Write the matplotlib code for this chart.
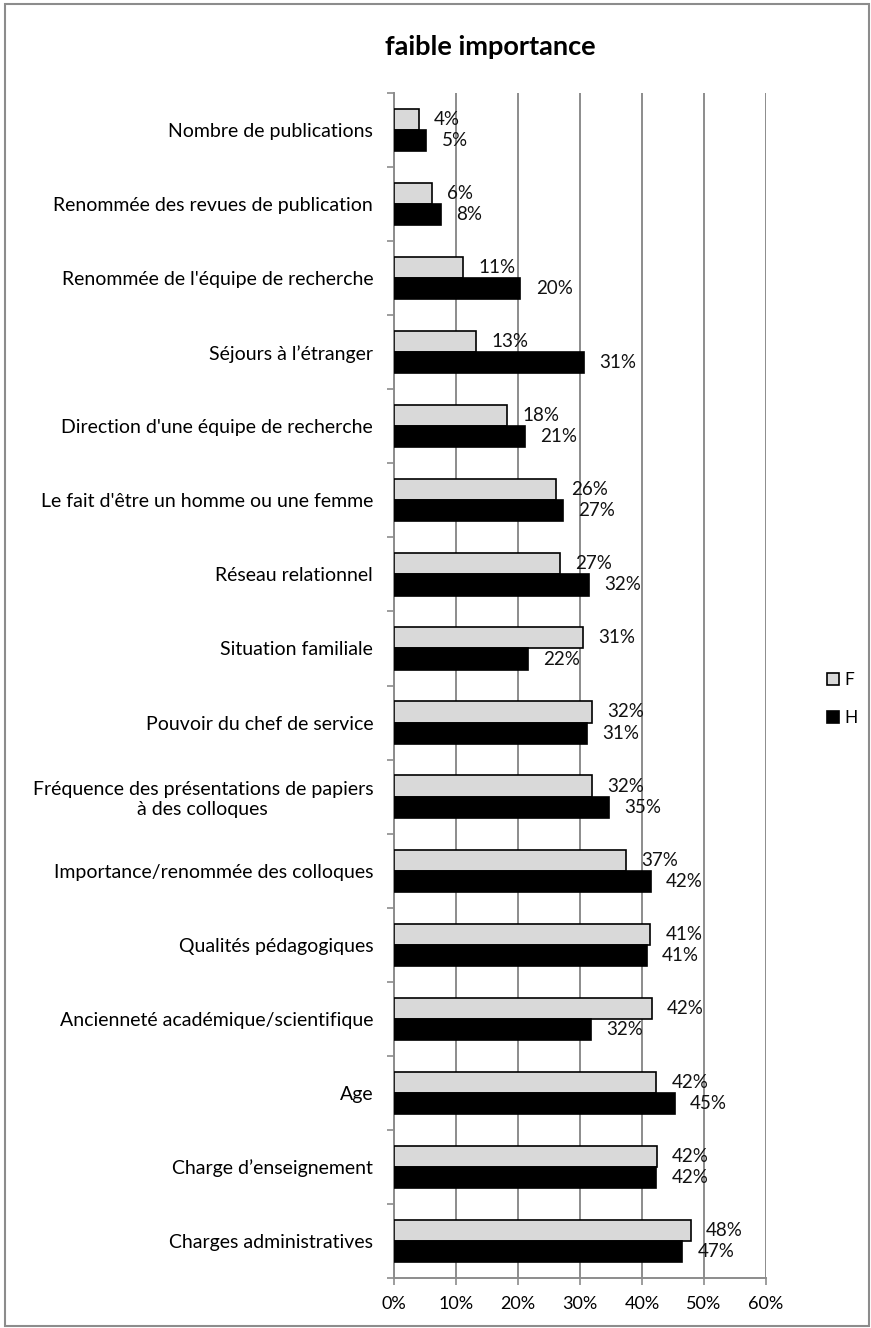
import numpy as np
import matplotlib
matplotlib.use('Agg')
import matplotlib.pyplot as plt
from matplotlib.patches import Rectangle

plt.rcParams['font.family'] = ['Lato', 'DejaVu Sans']

# Données
categories = [
    "Nombre de publications",
    "Renommée des revues de publication",
    "Renommée de l'équipe de recherche",
    "Séjours à l’étranger",
    "Direction d'une équipe de recherche",
    "Le fait d'être un homme ou une femme",
    "Réseau relationnel",
    "Situation familiale",
    "Pouvoir du chef de service",
    "Fréquence des présentations de papiers\nà des colloques",
    "Importance/renommée des colloques",
    "Qualités pédagogiques",
    "Ancienneté académique/scientifique",
    "Age",
    "Charge d’enseignement",
    "Charges administratives",
]
f_values = [4.0, 6.1, 11.2, 13.2, 18.3, 26.1, 26.7, 30.5, 31.9, 31.9, 37.4, 41.3, 41.6, 42.3, 42.4, 47.9]
h_values = [5.2, 7.5, 20.4, 30.7, 21.1, 27.2, 31.5, 21.6, 31.1, 34.7, 41.4, 40.8, 31.7, 45.3, 42.3, 46.5]
f_labels = ['4%', '6%', '11%', '13%', '18%', '26%', '27%', '31%', '32%', '32%', '37%', '41%', '42%', '42%', '42%', '48%']
h_labels = ['5%', '8%', '20%', '31%', '21%', '27%', '32%', '22%', '31%', '35%', '42%', '41%', '32%', '45%', '42%', '47%']
x_ticks = [0, 10, 20, 30, 40, 50, 60]

W, H = 871, 1328
fig = plt.figure(figsize=(W / 100, H / 100), dpi=100)
ax = fig.add_axes([394 / W, 1 - 1278 / H, (766 - 394) / W, (1278 - 93) / H])

y = np.arange(len(categories))
bh = 0.285
ax.barh(y - bh / 2, f_values, height=bh, color='#d9d9d9', edgecolor='black', linewidth=1.2, label='F', zorder=3)
ax.barh(y + bh / 2, h_values, height=bh, color='black', edgecolor='black', linewidth=1.2, label='H', zorder=3)

for i in range(len(categories)):
    ax.annotate(f_labels[i], (f_values[i], y[i] - bh / 2), xytext=(11, 0), textcoords='offset points',
                va='center', ha='left', fontsize=13.5, color='#111111')
    ax.annotate(h_labels[i], (h_values[i], y[i] + bh / 2), xytext=(11, 0), textcoords='offset points',
                va='center', ha='left', fontsize=13.5, color='#111111')

ax.set_xlim(0, 60)
ax.set_ylim(len(categories) - 0.5, -0.5)
ax.set_xticks(x_ticks)
ax.set_xticklabels([f'{t}%' for t in x_ticks], fontsize=13)
ax.xaxis.grid(True, color='#8c8c8c', linewidth=1.4, zorder=0)
ax.set_axisbelow(True)

ax.set_yticks(np.arange(len(categories) + 1) - 0.5)
ax.set_yticklabels([])
ax.set_yticks(y, minor=True)
ax.set_yticklabels(categories, minor=True, fontsize=14, multialignment='center')
ax.tick_params(axis='y', which='minor', length=0, pad=15)
ax.tick_params(axis='y', which='major', length=5, width=1.2, color='#8c8c8c')
ax.tick_params(axis='x', length=5, width=1.2, color='#8c8c8c', pad=8)

for s in ['top', 'right']:
    ax.spines[s].set_visible(False)
for s in ['left', 'bottom']:
    ax.spines[s].set_color('#8c8c8c')
    ax.spines[s].set_linewidth(1.4)

fig.text(490 / W, 1 - 47 / H, 'faible importance', ha='center', va='center', fontsize=19.5, fontweight='bold')

leg = fig.legend(loc='center left', bbox_to_anchor=(811 / W, 1 - 699 / H), frameon=False, fontsize=12.5,
                 handlelength=0.7, handleheight=0.7, handletextpad=0.3, labelspacing=1.3)

fig.patches.append(Rectangle((5 / W, 2 / H), 864 / W, 1322 / H, transform=fig.transFigure,
                             fill=False, edgecolor='#8c8c8c', linewidth=1.5))

fig.savefig('out.png', dpi=100)
